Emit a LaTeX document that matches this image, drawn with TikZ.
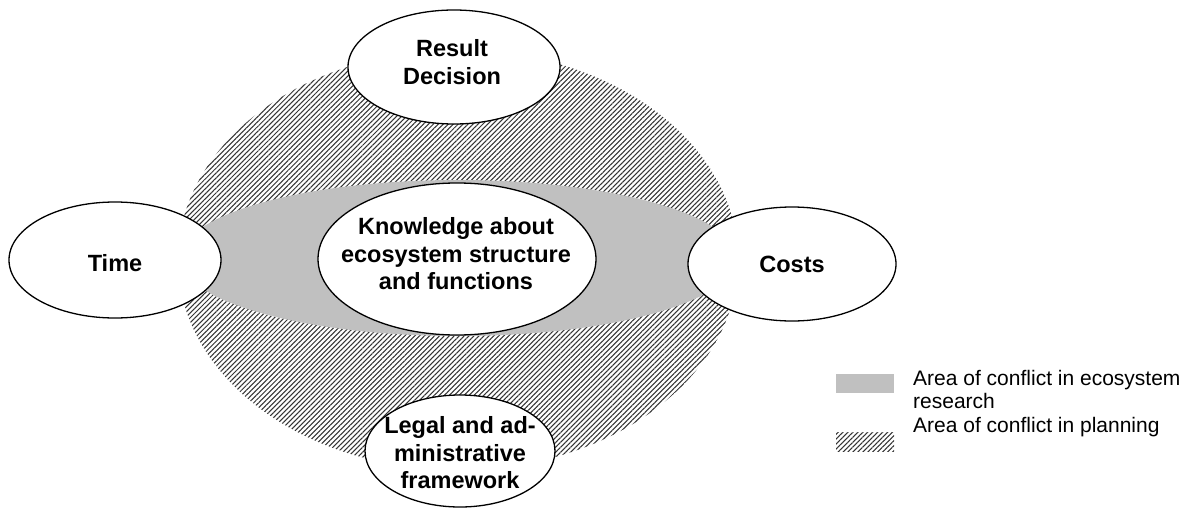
\documentclass[tikz,border=0pt]{standalone}
\usepackage{fontspec}
\setmainfont{Liberation Sans}
\usetikzlibrary{patterns.meta}
\definecolor{areagray}{HTML}{C0C0C0}
\tikzset{
  hatch/.style={pattern={Lines[angle=45,distance=3.5pt,line width=1.05pt]}, pattern color=black!80},
  ring/.style={draw=black, line width=1.3pt, fill=white},
  lbl/.style={font=\bfseries\fontsize{23.5}{27.5}\selectfont, align=center, inner sep=0pt},
  legtxt/.style={font=\fontsize{21}{23.5}\selectfont, anchor=base west, inner sep=0pt},
  legbox/.style={minimum width=58pt, minimum height=19pt, inner sep=0pt},
}
\begin{document}
\begin{tikzpicture}[x=1pt,y=-1pt]
\useasboundingbox (0,0) rectangle (1190,508);
% conflict areas
\fill[hatch] (458,260) ellipse [x radius=280pt, y radius=210pt];
\fill[areagray] (458,258) ellipse [x radius=278pt, y radius=78pt];
% ellipse outlines
\coordinate (cTime) at (115,260);
\coordinate (cCosts) at (792,264);
\coordinate (cResult) at (454,67);
\coordinate (cLegal) at (460,451);
\coordinate (cKnow) at (457,259);
\draw[ring] (cTime) ellipse [x radius=106pt, y radius=58pt];
\draw[ring] (cCosts) ellipse [x radius=104pt, y radius=57pt];
\draw[ring] (cResult) ellipse [x radius=106pt, y radius=57pt];
\draw[ring] (cLegal) ellipse [x radius=95pt, y radius=56pt];
\draw[ring] (cKnow) ellipse [x radius=139pt, y radius=76pt];
% labels
\node[lbl] (time) at (115,263) {Time};
\node[lbl] (costs) at (792,264) {Costs};
\node[lbl] (result) at (452,62) {Result\\Decision};
\node[lbl] (legal) at (460,453) {Legal and ad-\\ministrative\\framework};
\node[lbl] (know) at (456,254) {Knowledge about\\ecosystem structure\\and functions};
% legend
\node[legbox, fill=areagray] (leggray) at (865,383.5) {};
\node[legbox, hatch] (leghatch) at (865,442) {};
\node[legtxt] (leg1a) at (913,385) {Area of conflict in ecosystem};
\node[legtxt] (leg1b) at (913,408) {research};
\node[legtxt] (leg2) at (913,432) {Area of conflict in planning};
\end{tikzpicture}
\end{document}
